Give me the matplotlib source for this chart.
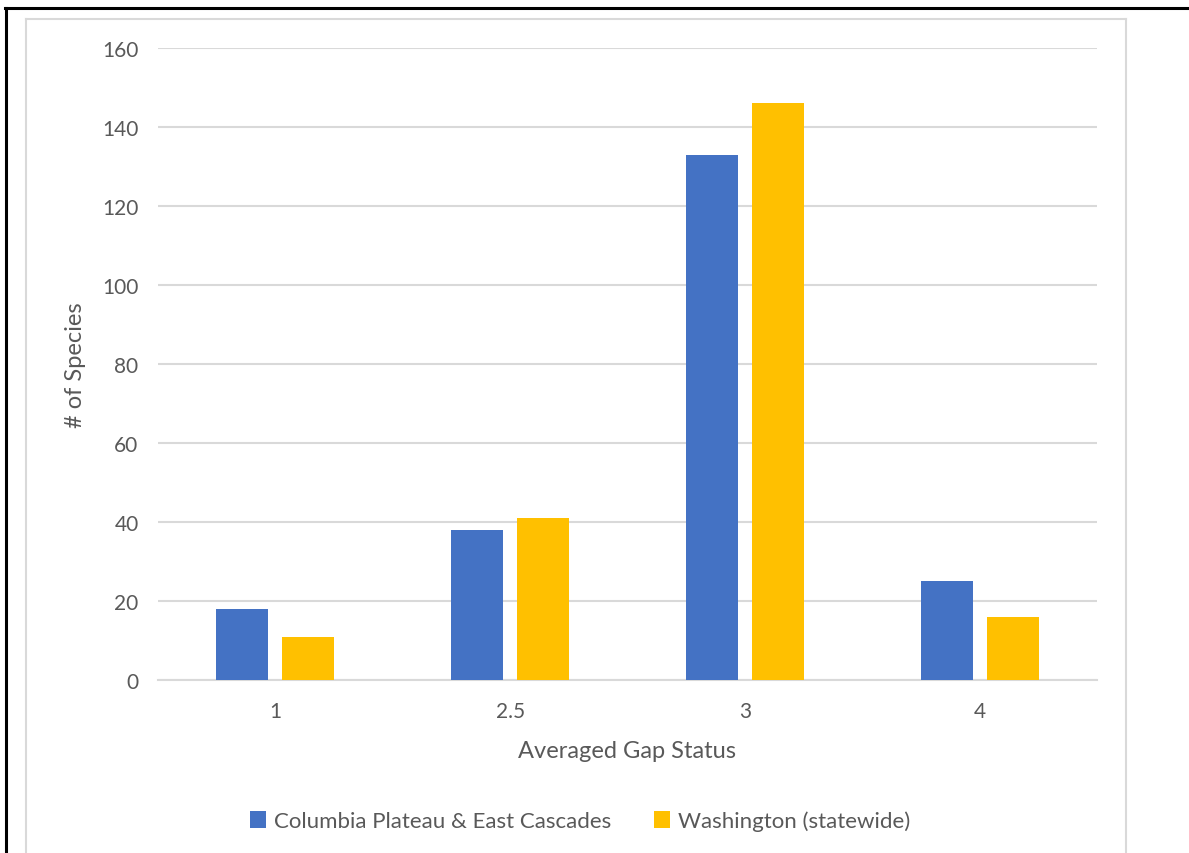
import matplotlib
matplotlib.use("Agg")
import matplotlib.pyplot as plt
import numpy as np
from matplotlib.lines import Line2D
from matplotlib.patches import Patch

plt.rcParams['font.family'] = ['Lato', 'DejaVu Sans']

categories = ["1", "2.5", "3", "4"]
columbia = [18, 38, 133, 25]
washington = [11, 41, 146, 16]
series_names = ["Columbia Plateau & East Cascades", "Washington (statewide)"]
y_ticks = [0, 20, 40, 60, 80, 100, 120, 140, 160]

BLUE = "#4472C4"
GOLD = "#FFC000"
GRID = "#D9D9D9"
TEXT = "#595959"

W, H = 1189, 854
fig = plt.figure(figsize=(W / 100, H / 100), dpi=100)
fig.patch.set_facecolor("white")

def fx(px):
    return px / W

def fy(py):
    return 1 - py / H

ax = fig.add_axes([fx(158), fy(681), fx(1097) - fx(158), fy(49) - fy(681)])

x = np.arange(len(categories))
bw = 0.222
off = (bw + 14 / 234.75) / 2
ax.bar(x - off, columbia, width=bw, color=BLUE, label=series_names[0], zorder=3)
ax.bar(x + off, washington, width=bw, color=GOLD, label=series_names[1], zorder=3)

ax.set_xlim(-0.5, len(categories) - 0.5)
ax.set_ylim(0, 160)
ax.set_yticks(y_ticks)
ax.set_yticklabels([str(t) for t in y_ticks])
ax.set_xticks(x)
ax.set_xticklabels(categories)
ax.tick_params(axis="both", length=0, labelsize=15, colors=TEXT)
ax.tick_params(axis="y", pad=14)
ax.tick_params(axis="x", pad=15)
ax.yaxis.grid(True, color=GRID, linewidth=1.5, zorder=0)
ax.set_axisbelow(True)
for side in ("top", "right", "left"):
    ax.spines[side].set_visible(False)
ax.spines["bottom"].set_color(GRID)
ax.spines["bottom"].set_linewidth(1.5)

ax.set_xlabel("Averaged Gap Status", fontsize=17, color=TEXT, va="center")
ax.set_ylabel("# of Species", fontsize=17, color=TEXT, va="center")
ax.xaxis.set_label_coords(0.5, (681 - 752) / 632)
ax.yaxis.set_label_coords((76 - 158) / 939, 0.5)

handles = [Patch(facecolor=BLUE), Patch(facecolor=GOLD)]
fig.legend(handles, series_names, loc="center", bbox_to_anchor=(fx(580), fy(822)),
           ncol=2, frameon=False, fontsize=16, labelcolor=TEXT,
           handlelength=0.75, handleheight=0.75, handletextpad=0.35, columnspacing=1.9)

# chart area border (light gray) and outer black frame
fig.add_artist(Line2D([fx(26), fx(26)], [fy(19.5), 0], color=GRID, linewidth=1.5, transform=fig.transFigure))
fig.add_artist(Line2D([fx(26), fx(1126)], [fy(19.5), fy(19.5)], color=GRID, linewidth=1.5, transform=fig.transFigure))
fig.add_artist(Line2D([fx(1126), fx(1126)], [fy(19.5), 0], color=GRID, linewidth=1.5, transform=fig.transFigure))
fig.add_artist(Line2D([fx(6), fx(6)], [fy(8.5), 0], color="black", linewidth=2.2, transform=fig.transFigure))
fig.add_artist(Line2D([fx(5), 1], [fy(8.5), fy(8.5)], color="black", linewidth=2.2, transform=fig.transFigure))

fig.savefig("out.png", dpi=100, facecolor="white")
